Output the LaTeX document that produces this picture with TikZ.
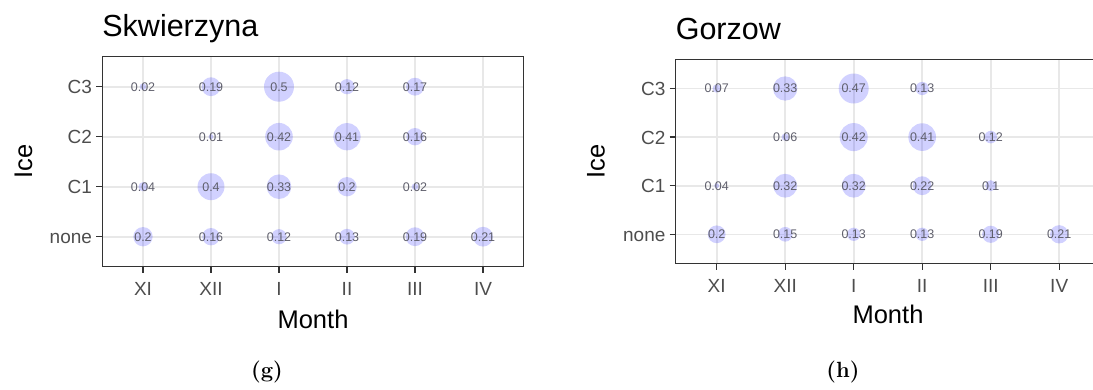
\documentclass[tikz,border=0pt]{standalone}
\usepackage{fontspec}
\newfontfamily\arialf{Liberation Sans}
\definecolor{gridc}{RGB}{232,232,232}
\definecolor{axc}{RGB}{51,51,51}
\definecolor{axtxt}{RGB}{77,77,77}
\definecolor{valc}{RGB}{95,95,108}
\begin{document}
\begin{tikzpicture}[x=1pt,y=-1pt,
  gridl/.style={draw=gridc, line width=1.6pt},
  frame/.style={draw=axc, line width=1.1pt},
  tickl/.style={draw=axc, line width=1.3pt},
  bub/.style={fill=blue, fill opacity=0.18},
  val/.style={font=\arialf\fontsize{12.5}{12.5}\selectfont, text=valc, inner sep=0pt},
  ylab/.style={font=\arialf\fontsize{19}{19}\selectfont, text=axtxt, anchor=base east, inner sep=0pt},
  xlab/.style={font=\arialf\fontsize{19}{19}\selectfont, text=axtxt, anchor=base, inner sep=0pt},
  axtitle/.style={font=\arialf\fontsize{25.5}{26}\selectfont, text=black, inner sep=0pt},
  ptitle/.style={font=\arialf\fontsize{30.5}{31}\selectfont, text=black, anchor=base west, inner sep=0pt},
  captxt/.style={font=\bfseries\fontsize{22}{23}\selectfont, text=black, anchor=base, inner sep=0pt}]
\useasboundingbox (0,0) rectangle (1093,389);
% ---------------- left panel (g) ----------------
\foreach \i in {0,...,5} \draw[gridl] (143+68*\i,56.7) -- (143+68*\i,266.7);
\foreach \j in {0,...,3} \draw[gridl] (102.2,86.7+50*\j) -- (523.8,86.7+50*\j);
\foreach \j/\i/\v in {0/0/0.02, 0/1/0.19, 0/2/0.5, 0/3/0.12, 0/4/0.17,
  1/1/0.01, 1/2/0.42, 1/3/0.41, 1/4/0.16,
  2/0/0.04, 2/1/0.4, 2/2/0.33, 2/3/0.2, 2/4/0.02,
  3/0/0.2, 3/1/0.16, 3/2/0.12, 3/3/0.13, 3/4/0.19, 3/5/0.21} {
  \pgfmathsetmacro\rr{2.5*(1+5*(sqrt(\v)-0.1)/(sqrt(0.5)-0.1))}
  \fill[bub] (143+68*\i,86.7+50*\j) circle[radius=\rr pt];
  \node[val] (g-\j-\i) at (143+68*\i,86.7+50*\j) {\v};
}
\draw[frame] (102.2,56.7) rectangle (523.8,266.7);
\foreach \i/\m in {0/XI,1/XII,2/I,3/II,4/III,5/IV} {
  \draw[tickl] (143+68*\i,266.7) -- (143+68*\i,272.7);
  \node[xlab] (gx-\i) at (143+68*\i,295.7) {\m};
}
\foreach \j/\c in {0/C3,1/C2,2/C1,3/none} {
  \draw[tickl] (96.2,86.7+50*\j) -- (102.2,86.7+50*\j);
  \node[ylab] (gy-\j) at (92.2,93.7+50*\j) {\c};
}
\node[ptitle] (gtitle) at (102.2,36) {Skwierzyna};
\node[axtitle, rotate=90] (gice) at (23.5,161.7) {Ice};
\node[axtitle, anchor=base] (gmonth) at (313,328) {Month};
\node[captxt] (gcap) at (267,377) {(g)};
% ---------------- right panel (h) ----------------
\foreach \i in {0,...,5} \draw[gridl] (716.7+68.5*\i,59.3) -- (716.7+68.5*\i,263.5);
\foreach \j in {0,...,3} \draw[gridl] (675.6,88.5+48.6*\j) -- (1093,88.5+48.6*\j);
\foreach \j/\i/\v in {0/0/0.07, 0/1/0.33, 0/2/0.47, 0/3/0.13,
  1/1/0.06, 1/2/0.42, 1/3/0.41, 1/4/0.12,
  2/0/0.04, 2/1/0.32, 2/2/0.32, 2/3/0.22, 2/4/0.1,
  3/0/0.2, 3/1/0.15, 3/2/0.13, 3/3/0.13, 3/4/0.19, 3/5/0.21} {
  \pgfmathsetmacro\rr{2.5*(1+5*(sqrt(\v)-0.2)/(sqrt(0.47)-0.2))}
  \fill[bub] (716.7+68.5*\i,88.5+48.6*\j) circle[radius=\rr pt];
  \node[val] (h-\j-\i) at (716.7+68.5*\i,88.5+48.6*\j) {\v};
}
\draw[frame] (1093,59.3) -- (675.6,59.3) -- (675.6,263.5) -- (1093,263.5);
\foreach \i/\m in {0/XI,1/XII,2/I,3/II,4/III,5/IV} {
  \draw[tickl] (716.7+68.5*\i,263.5) -- (716.7+68.5*\i,269.5);
  \node[xlab] (hx-\i) at (716.7+68.5*\i,292.5) {\m};
}
\foreach \j/\c in {0/C3,1/C2,2/C1,3/none} {
  \draw[tickl] (669.6,88.5+48.6*\j) -- (675.6,88.5+48.6*\j);
  \node[ylab] (hy-\j) at (665.6,95.5+48.6*\j) {\c};
}
\node[ptitle] (htitle) at (675.6,39) {Gorzow};
\node[axtitle, rotate=90] (hice) at (596,161.4) {Ice};
\node[axtitle, anchor=base] (hmonth) at (888,323.5) {Month};
\node[captxt] (hcap) at (843,377) {(h)};
\end{tikzpicture}
\end{document}
